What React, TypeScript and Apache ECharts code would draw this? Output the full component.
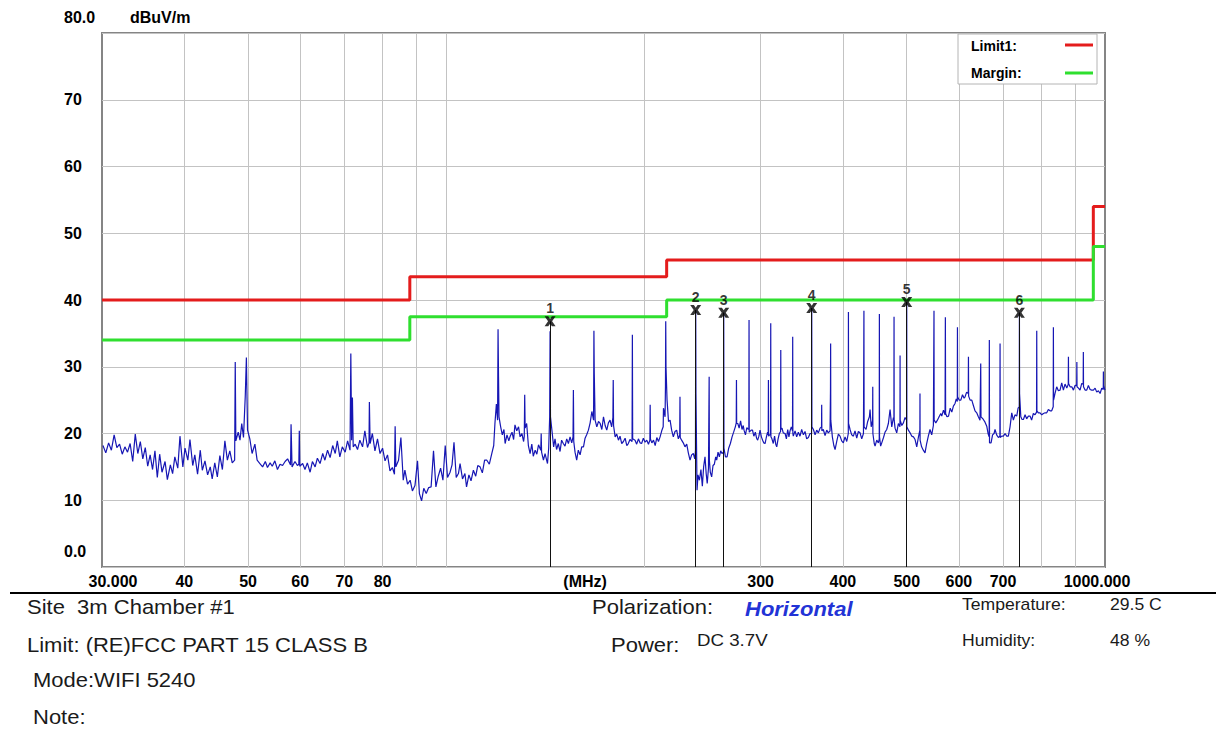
import React, { useEffect, useRef } from "react";
import * as echarts from "echarts";

const FONT = '"Liberation Sans", Arial, Helvetica, sans-serif';

// Measured field strength, [frequency MHz, level dBuV/m]
const traceLow: [number, number][] = [
  [30.1, 18.2], [30.4, 17.1], [30.7, 18.6], [31.0, 17.5], [31.3, 19.8], [31.6, 17.9], [31.9, 18.4], [32.2, 16.9],
  [32.5, 18.0], [32.8, 17.2], [33.1, 18.5], [33.4, 15.8], [33.7, 19.9], [34.0, 17.0], [34.3, 18.8], [34.6, 16.2],
  [34.9, 17.9], [35.2, 15.1], [35.5, 16.8], [35.8, 14.6], [36.1, 17.4], [36.4, 13.4], [36.7, 16.9], [37.0, 14.2],
  [37.4, 15.8], [37.7, 13.1], [38.1, 15.3], [38.4, 14.0], [38.7, 16.5], [39.1, 14.8], [39.4, 19.6], [39.8, 15.0],
  [40.1, 17.8], [40.5, 16.0], [40.8, 19.1], [41.2, 15.2], [41.5, 16.8], [41.9, 13.9], [42.3, 17.5], [42.6, 14.5],
  [43.0, 15.9], [43.4, 13.8], [43.8, 15.0], [44.1, 13.2], [44.5, 15.6], [44.9, 13.5], [45.3, 16.7], [45.7, 14.6],
  [46.1, 18.9], [46.5, 16.0], [46.9, 17.4], [47.3, 15.6], [47.7, 16.0], [47.8, 30.7], [47.9, 18.9], [48.3, 20.2],
  [48.6, 19.0], [48.9, 21.5], [49.2, 19.4], [49.5, 25.5], [49.7, 31.4], [49.9, 20.5], [50.3, 19.2], [50.7, 17.0],
  [51.2, 18.4], [51.6, 16.0], [52.1, 15.5], [52.6, 15.0], [53.1, 15.8], [53.5, 14.9], [54.0, 15.6], [54.4, 15.1],
  [54.9, 15.9], [55.4, 14.6], [55.9, 15.4], [56.4, 15.2], [56.9, 15.8], [57.4, 16.2], [58.0, 15.3], [58.1, 21.4],
  [58.3, 15.0], [58.9, 15.8], [59.4, 15.2], [59.7, 15.4], [59.8, 20.4], [59.9, 15.1], [60.5, 15.5], [61.0, 14.6],
  [61.5, 15.6], [62.1, 14.2], [62.6, 15.8], [63.2, 15.0], [63.7, 16.3], [64.3, 15.5], [64.9, 17.0], [65.4, 16.0],
  [66.0, 17.5], [66.6, 16.4], [67.2, 18.2], [67.8, 17.0], [68.3, 18.9], [68.9, 16.5], [69.5, 18.0], [70.2, 17.2],
  [70.8, 18.9], [71.4, 17.5], [71.6, 32.0], [71.8, 19.0], [72.0, 25.4], [72.2, 18.0], [72.7, 18.4], [73.3, 17.6],
  [73.9, 19.0], [74.6, 18.0], [75.2, 20.4], [75.9, 17.9], [76.3, 18.6], [76.4, 24.7], [76.6, 18.5], [77.2, 20.0],
  [77.9, 17.4], [78.6, 19.2], [79.3, 17.0], [80.0, 17.8], [80.7, 15.9], [81.4, 16.8], [82.1, 14.4], [82.8, 14.9],
  [83.4, 13.9], [83.6, 21.1], [83.8, 15.0], [84.6, 16.0], [85.3, 19.4], [86.0, 13.0], [86.5, 14.5], [87.3, 12.4],
  [88.1, 13.0], [88.8, 11.4], [89.6, 12.2], [90.4, 15.9], [91.0, 11.0], [91.7, 9.9], [92.4, 11.8], [93.2, 11.0],
  [94.0, 11.9], [94.8, 12.0], [95.6, 17.4], [96.4, 12.0], [97.2, 13.6], [98.0, 14.8], [98.8, 13.0], [99.6, 18.2],
  [100.4, 13.4], [101.3, 14.2], [102.0, 15.3], [102.7, 18.7], [103.5, 13.4], [104.3, 14.0],
];

const traceMid: [number, number][] = [
  [104.9, 15.5], [105.8, 13.2], [106.7, 14.0], [107.3, 12.0], [108.2, 13.8], [109.0, 12.9], [109.9, 14.5],
  [110.8, 13.6], [111.6, 15.2], [112.5, 15.0], [113.4, 14.1], [114.3, 16.0], [115.2, 16.0], [116.2, 15.4],
  [117.2, 17.0], [118.0, 18.2], [118.5, 21.5], [119.1, 24.4], [119.6, 22.0], [119.8, 35.6], [120.0, 28.5],
  [120.2, 22.5], [120.9, 21.0], [121.6, 19.8], [122.3, 20.6], [122.8, 18.5], [123.6, 19.8], [124.4, 18.9],
  [124.9, 19.5], [125.8, 20.2], [126.5, 19.1], [127.1, 21.3], [127.9, 20.4], [128.7, 21.0], [129.4, 19.5],
  [130.2, 20.0], [131.0, 18.8], [131.3, 19.6], [131.5, 25.8], [131.7, 20.8], [132.4, 21.5], [133.2, 18.2],
  [134.0, 17.0], [134.8, 18.4], [135.5, 16.6], [136.4, 17.5], [137.2, 16.9], [138.0, 18.3], [139.1, 17.5],
  [139.3, 20.0], [139.5, 17.2], [140.4, 16.0], [141.2, 17.0], [142.4, 15.5], [143.0, 17.8], [143.5, 22.5],
  [143.7, 35.3], [143.9, 22.5], [144.8, 20.0], [145.5, 18.0], [146.2, 19.2], [147.0, 17.6], [147.9, 18.5],
  [148.8, 17.3], [149.6, 19.0], [150.5, 18.5], [151.4, 18.1], [152.3, 19.2], [153.2, 18.5], [154.1, 19.5],
  [155.0, 18.6], [155.7, 19.5], [155.9, 26.5], [156.1, 18.8], [156.8, 17.2], [157.7, 16.0], [158.6, 17.5],
  [159.6, 16.8], [160.5, 18.0], [161.5, 18.0], [162.4, 19.3], [163.3, 19.8], [164.3, 20.5], [165.3, 21.6],
  [166.3, 23.3], [167.3, 22.0], [167.5, 35.4], [167.7, 29.0], [168.2, 22.0], [169.2, 21.0], [170.2, 21.8],
  [171.2, 21.5], [172.2, 20.6], [173.2, 22.5], [174.2, 21.2], [175.2, 20.5], [176.2, 21.6], [177.2, 22.0],
  [178.2, 21.0], [179.0, 22.4], [179.2, 28.0], [179.4, 21.2], [180.4, 19.5], [181.4, 19.9], [182.5, 19.0],
  [183.5, 19.6], [184.6, 18.5], [185.7, 18.8], [186.8, 19.3], [187.9, 18.2], [188.9, 18.5], [190.0, 19.1],
  [191.4, 18.8], [191.6, 34.8], [191.8, 19.2], [193.4, 19.0], [194.5, 18.4], [195.7, 19.2], [196.8, 18.6],
  [197.9, 18.5], [199.1, 19.3], [200.3, 18.7], [201.5, 19.0], [202.7, 18.4], [203.7, 19.0], [203.9, 24.3],
  [204.1, 19.2], [205.1, 18.6], [206.3, 19.0], [207.5, 18.2], [208.7, 19.4], [209.9, 18.8], [211.1, 19.5],
  [212.3, 20.4], [213.4, 21.0], [213.6, 23.8], [214.8, 22.5], [215.1, 27.0], [215.3, 36.8], [215.5, 30.0],
  [216.3, 25.0], [217.4, 21.8], [218.6, 22.0], [219.8, 20.5], [221.1, 19.5], [222.4, 20.3], [223.7, 20.5],
  [225.0, 19.2], [226.1, 19.8], [226.3, 25.5], [226.5, 19.4], [227.6, 19.0], [228.9, 18.6], [230.3, 18.0],
  [231.7, 18.4], [233.0, 17.1], [234.4, 16.0], [235.7, 16.8], [237.1, 17.0], [238.3, 16.2], [238.9, 17.5],
  [239.1, 38.5], [239.3, 26.0], [240.2, 11.5], [241.0, 13.8], [242.2, 13.0], [243.5, 14.6], [244.7, 12.1],
  [245.8, 15.0], [247.0, 16.5], [248.0, 14.0], [248.9, 12.5], [250.0, 14.8], [250.6, 28.5], [250.8, 16.0],
  [251.6, 14.2], [252.8, 13.5], [254.0, 15.2], [255.2, 15.4], [256.4, 16.5], [257.3, 16.0], [258.5, 17.2],
  [259.7, 16.5], [260.9, 17.4], [262.1, 17.0], [263.5, 17.2], [263.7, 38.1], [263.9, 17.8], [265.3, 16.5],
  [266.8, 16.5], [268.3, 17.8], [269.9, 18.5], [271.5, 19.5], [273.0, 20.2], [274.6, 21.0], [275.5, 21.6],
  [275.7, 28.0], [275.9, 21.5], [277.0, 21.5], [278.3, 20.8], [279.7, 21.9], [281.1, 20.6], [282.3, 21.2],
  [283.1, 20.5], [284.5, 19.8], [285.9, 20.9], [287.3, 20.6], [287.9, 20.8], [288.1, 37.0], [288.3, 20.2],
  [290.3, 20.5], [291.6, 20.5], [293.0, 19.6], [294.5, 20.2], [295.8, 19.3], [296.9, 19.0], [298.2, 19.6],
  [299.4, 20.5], [300.8, 19.5], [302.1, 19.0], [303.3, 18.6], [304.7, 18.5], [306.0, 19.4], [307.4, 20.2],
  [308.1, 19.8], [308.3, 28.0], [308.5, 19.6], [309.5, 19.8], [310.6, 19.8], [310.8, 36.5], [311.0, 19.5],
  [312.1, 19.2], [313.6, 18.5], [315.0, 19.6], [316.3, 18.4], [317.4, 18.0], [318.9, 19.2], [320.3, 20.0],
  [321.7, 20.3], [321.9, 32.5], [322.1, 20.6], [323.3, 20.8], [324.7, 20.1], [326.8, 20.0], [328.3, 19.2],
  [329.8, 20.6], [331.2, 19.5], [332.5, 20.4], [334.0, 21.0], [335.4, 20.4], [335.6, 34.5], [335.8, 20.0],
];

const traceHigh: [number, number][] = [
  [336.3, 19.6], [338.4, 20.4], [340.3, 19.5], [342.3, 20.2], [344.3, 19.6], [346.3, 20.6], [348.4, 19.8],
  [350.4, 20.3], [352.4, 19.2], [354.5, 19.4], [356.6, 20.0], [358.5, 20.0], [358.7, 38.8], [358.9, 21.0],
  [360.8, 20.6], [362.9, 19.8], [365.0, 20.5], [367.1, 20.1], [369.3, 20.8], [371.2, 21.0], [371.4, 24.3],
  [371.6, 20.4], [373.5, 20.6], [375.8, 19.7], [378.0, 20.5], [380.1, 20.1], [382.4, 20.4], [383.0, 26.5],
  [383.2, 33.5], [383.4, 22.0], [385.5, 19.5], [387.5, 18.2], [389.2, 17.6], [391.4, 18.8], [393.7, 19.9],
  [396.0, 19.6], [398.3, 18.9], [400.6, 18.6], [403.0, 19.5], [405.4, 18.8], [407.6, 20.0], [407.8, 38.2],
  [408.0, 21.5], [410.1, 20.6], [412.5, 19.8], [414.9, 19.6], [417.3, 20.4], [419.8, 19.3], [422.2, 20.3],
  [424.7, 20.1], [427.2, 19.2], [429.8, 20.0], [430.5, 38.4], [430.8, 21.0], [433.7, 20.6], [436.2, 21.8],
  [438.8, 22.5], [439.8, 23.6], [441.6, 21.0], [443.8, 22.0], [444.0, 27.0], [444.2, 20.0], [446.3, 18.5],
  [447.6, 18.1], [450.2, 19.0], [452.8, 18.6], [454.2, 19.2], [454.4, 37.9], [454.6, 19.5], [456.4, 18.1],
  [458.2, 18.6], [461.0, 19.4], [463.5, 20.2], [466.2, 20.6], [468.9, 21.5], [471.7, 23.6], [474.5, 21.0],
  [477.2, 22.4], [478.1, 22.0], [478.3, 37.5], [478.5, 22.0], [480.0, 20.8], [482.8, 20.1], [485.6, 21.5],
  [488.3, 21.0], [488.5, 31.7], [488.7, 22.0], [491.4, 21.2], [494.2, 21.6], [497.1, 22.4], [499.8, 22.0],
  [500.0, 39.7], [500.2, 21.0], [502.9, 20.5], [505.9, 20.1], [508.9, 19.6], [511.9, 19.5], [514.8, 19.1],
  [517.8, 18.0], [520.7, 19.4], [523.5, 20.5], [523.7, 26.0], [523.9, 19.0], [526.7, 18.0], [529.8, 17.5],
  [533.0, 17.1], [536.1, 18.5], [539.2, 19.6], [542.4, 20.6], [545.6, 19.8], [548.8, 21.2], [550.0, 38.4],
  [550.3, 22.0], [553.4, 21.6], [556.6, 22.0], [559.9, 22.5], [563.2, 23.0], [565.1, 22.6], [568.5, 23.5],
  [571.7, 22.8], [572.3, 37.4], [572.8, 23.0], [575.5, 22.5], [578.7, 22.6], [582.1, 23.8], [585.3, 23.2],
  [588.6, 24.1], [592.0, 24.5], [594.5, 25.2], [596.7, 24.8], [597.0, 35.9], [597.4, 25.5], [600.5, 25.0],
  [604.1, 25.0], [607.6, 25.8], [611.0, 25.3], [613.1, 25.5], [616.5, 26.2], [620.0, 26.0], [620.4, 31.5],
  [620.8, 25.6], [624.0, 25.0], [627.7, 25.0], [631.2, 24.2], [634.8, 23.4], [638.6, 23.1], [642.3, 22.5],
  [646.0, 22.0], [647.6, 30.5], [648.2, 22.5], [651.0, 22.3], [653.6, 22.1], [657.4, 21.7], [661.4, 21.1],
  [664.4, 20.0], [667.0, 19.5], [667.4, 34.0], [667.8, 18.6], [671.4, 18.6], [675.0, 19.8], [678.5, 20.0],
  [680.8, 20.6], [684.7, 19.8], [688.8, 19.4], [692.5, 19.6], [692.9, 33.5], [693.3, 19.4], [697.0, 19.6],
  [701.0, 19.6], [705.1, 20.0], [709.2, 19.6], [713.3, 19.6], [717.5, 21.0], [721.8, 23.1], [725.9, 22.0],
  [730.0, 22.8], [734.5, 22.6], [738.0, 23.8], [741.0, 24.0], [741.4, 38.1], [741.8, 26.0], [745.0, 22.5],
  [748.3, 22.1], [751.8, 22.1], [756.2, 22.8], [760.4, 22.2], [765.0, 22.6], [769.6, 22.6], [773.7, 22.0],
  [778.4, 23.0], [783.0, 22.8], [787.2, 23.2], [787.7, 35.4], [788.2, 23.4], [792.2, 23.1], [796.8, 23.1],
  [801.6, 22.8], [806.3, 23.0], [811.0, 23.1], [815.7, 23.1], [820.3, 23.6], [825.2, 23.4], [830.0, 23.4],
  [834.4, 24.0], [834.9, 35.9], [835.4, 25.0], [839.7, 26.0], [844.6, 27.0], [849.6, 26.4], [854.6, 26.5],
  [859.6, 27.6], [864.6, 26.5], [869.6, 27.4], [875.0, 26.8], [879.5, 27.4], [880.0, 31.5], [880.5, 27.5],
  [885.0, 27.0], [890.4, 27.0], [895.5, 26.5], [900.6, 27.2], [905.8, 27.2], [906.3, 30.7], [906.8, 27.0],
  [911.5, 26.8], [916.5, 26.5], [921.9, 27.5], [926.6, 27.4], [927.1, 32.2], [927.6, 27.0], [932.7, 26.5],
  [938.1, 26.5], [943.6, 27.2], [949.2, 26.6], [954.7, 26.5], [960.3, 26.5], [966.0, 26.8], [971.5, 26.2],
  [977.2, 26.4], [983.0, 26.0], [988.7, 26.8], [994.0, 26.6], [994.4, 29.3], [994.8, 27.2], [1000, 26.5],
];

// FCC Part 15 class B limit and the 6 dB margin line
const limitFreq = [30, 88, 88, 216, 216, 960, 960, 1000];
const limitLevel = [40, 40, 43.5, 43.5, 46, 46, 54, 54];
const marginLevel = [34, 34, 37.5, 37.5, 40, 40, 48, 48];

// Peak markers
const markerNo = ["1", "2", "3", "4", "5", "6"];
const markerFreq = [143.7, 239.1, 263.7, 358.7, 500.0, 741.4];
const markerLevel = [36.8, 38.5, 38.1, 38.8, 39.7, 38.1];

// Frequency axis decoration
const xGridFreqs = [40, 50, 60, 70, 80, 90, 100, 200, 300, 400, 500, 600, 700, 800, 900];
const xLabelFreqs = [30, 40, 50, 60, 70, 80, 300, 400, 500, 600, 700, 1000];
const unitFreq = 162.4;

const lg = (f: number) => Math.log10(f);
const toXY = (pts: [number, number][]) => pts.map(([f, v]) => [lg(f), v]);

const X_SYMBOL =
  "path://M0 0L4 0L6 3.2L8 0L12 0L8.2 6L12 12L8 12L6 8.8L4 12L0 12L3.8 6Z";

const axisFont = { color: "#000", fontFamily: FONT, fontSize: 16, fontWeight: "bold" as const };

function infoText(text: string, x: number, y: number, size: number, extra: any = {}) {
  return {
    type: "text",
    x,
    y,
    scaleX: 1.1,
    z: 100,
    style: {
      text,
      fontFamily: FONT,
      fontSize: size,
      fill: "#1a1a1a",
      align: "left",
      verticalAlign: "middle",
      ...extra,
    },
  };
}

function buildOption() {
  const trace = [...traceLow, ...traceMid, ...traceHigh];
  return {
    animation: false,
    backgroundColor: "#fff",
    grid: {
      left: 102,
      top: 33,
      right: 119,
      bottom: 167,
      show: true,
      borderColor: "#858585",
      borderWidth: 2,
      backgroundColor: "transparent",
      containLabel: false,
    },
    xAxis: {
      type: "value",
      min: lg(30),
      max: lg(1000),
      axisLine: { show: false },
      axisTick: { show: false, customValues: xGridFreqs.map(lg) },
      splitLine: { show: true, lineStyle: { color: "#c3c3c3", width: 1 } },
      axisLabel: {
        ...axisFont,
        margin: 6,
        customValues: [...xLabelFreqs, unitFreq].map(lg),
        formatter: (v: number) => {
          const f = Math.pow(10, v);
          if (Math.abs(f - unitFreq) < 0.5) return "(MHz)";
          if (Math.abs(f - 30) < 0.01) return "{first|30.000}";
          if (Math.abs(f - 1000) < 0.1) return "{last|1000.000}";
          return String(Math.round(f));
        },
        rich: {
          first: { ...axisFont, padding: [0, 0, 0, 22] },
          last: { ...axisFont, padding: [0, 16, 0, 0] },
        },
      },
    },
    yAxis: {
      type: "value",
      min: 0,
      max: 80,
      interval: 10,
      name: "dBuV/m",
      nameLocation: "end",
      nameGap: 16,
      nameTextStyle: { ...axisFont, align: "left", verticalAlign: "middle", padding: [0, 0, 0, 28] },
      axisLine: { show: false },
      axisTick: { show: false },
      splitLine: { show: true, lineStyle: { color: "#c3c3c3", width: 1 } },
      axisLabel: {
        ...axisFont,
        align: "left",
        margin: 38,
        formatter: (v: number) => (v === 0 ? "{edge|0.0}" : v === 80 ? "{edge|80.0}" : String(v)),
        rich: { edge: { ...axisFont, padding: [0, 0, 31, 0] } },
      },
    },
    series: [
      {
        type: "scatter",
        name: "markerLines",
        data: [],
        z: 1,
        silent: true,
        markLine: {
          silent: true,
          symbol: ["none", "none"],
          label: { show: false },
          lineStyle: { color: "#111", width: 1, type: "solid" },
          data: markerFreq.map((f, i) => [{ coord: [lg(f), 0] }, { coord: [lg(f), markerLevel[i]] }]),
        },
      },
      {
        type: "line",
        name: "Level",
        data: toXY(trace),
        symbol: "none",
        showSymbol: false,
        silent: true,
        lineStyle: { color: "#1616b4", width: 1.2 },
        z: 3,
      },
      {
        type: "line",
        name: "Limit1:",
        data: limitFreq.map((f, i) => [lg(f), limitLevel[i]]),
        symbol: "none",
        silent: true,
        lineStyle: { color: "#e41c1c", width: 3 },
        z: 4,
      },
      {
        type: "line",
        name: "Margin:",
        data: limitFreq.map((f, i) => [lg(f), marginLevel[i]]),
        symbol: "none",
        silent: true,
        lineStyle: { color: "#2fdf2f", width: 3 },
        z: 4,
      },
      {
        type: "scatter",
        name: "Markers",
        data: markerNo.map((n, i) => ({ name: n, value: [lg(markerFreq[i]), markerLevel[i]] })),
        symbol: X_SYMBOL,
        symbolSize: [11, 10],
        itemStyle: { color: "#000" },
        silent: true,
        label: {
          show: true,
          position: "top",
          distance: 1,
          formatter: "{b}",
          color: "#000",
          fontFamily: FONT,
          fontSize: 14,
          fontWeight: "bold",
        },
        z: 6,
      },
    ],
    graphic: [
      // legend box
      {
        type: "rect",
        z: 100,
        shape: { x: 958, y: 34, width: 139, height: 50 },
        style: { fill: "#fff", stroke: "#b4b4b4", lineWidth: 1 },
      },
      {
        type: "text",
        x: 971,
        y: 46,
        z: 101,
        style: { text: "Limit1:", fontFamily: FONT, fontSize: 14, fontWeight: "bold", fill: "#000", align: "left", verticalAlign: "middle" },
      },
      {
        type: "text",
        x: 971,
        y: 73,
        z: 101,
        style: { text: "Margin:", fontFamily: FONT, fontSize: 14, fontWeight: "bold", fill: "#000", align: "left", verticalAlign: "middle" },
      },
      { type: "line", z: 101, shape: { x1: 1065, y1: 45, x2: 1093, y2: 45 }, style: { stroke: "#e41c1c", lineWidth: 3 } },
      { type: "line", z: 101, shape: { x1: 1065, y1: 73, x2: 1093, y2: 73 }, style: { stroke: "#2fdf2f", lineWidth: 3 } },
      // separator under the plot
      { type: "line", z: 100, shape: { x1: 10, y1: 593, x2: 1216, y2: 593 }, style: { stroke: "#000", lineWidth: 2 } },
      // test information
      infoText("Site\u00a0 3m Chamber #1", 27, 607, 20),
      infoText("Limit: (RE)FCC PART 15 CLASS B", 27, 645, 20),
      infoText("Mode:WIFI 5240", 33, 680, 20),
      infoText("Note:", 33, 717, 20),
      infoText("Polarization:", 592, 607, 20),
      infoText("Horizontal", 745, 609, 20, { fontWeight: "bold", fontStyle: "italic", fill: "#2233d6" }),
      infoText("Power:", 611, 645, 20),
      infoText("DC 3.7V", 697, 640, 17),
      infoText("Temperature:", 962, 605, 16),
      infoText("29.5 C", 1110, 605, 16),
      infoText("Humidity:", 962, 641, 16),
      infoText("48 %", 1110, 641, 16),
    ],
  };
}

export default function App() {
  const ref = useRef<HTMLDivElement>(null);
  useEffect(() => {
    if (!ref.current) return;
    const chart = echarts.init(ref.current, undefined, { renderer: "svg" });
    chart.setOption(buildOption() as any);
    return () => chart.dispose();
  }, []);
  return (
    <div
      ref={ref}
      style={{ position: "absolute", left: 0, top: 0, width: 1224, height: 734, background: "#fff" }}
    />
  );
}
